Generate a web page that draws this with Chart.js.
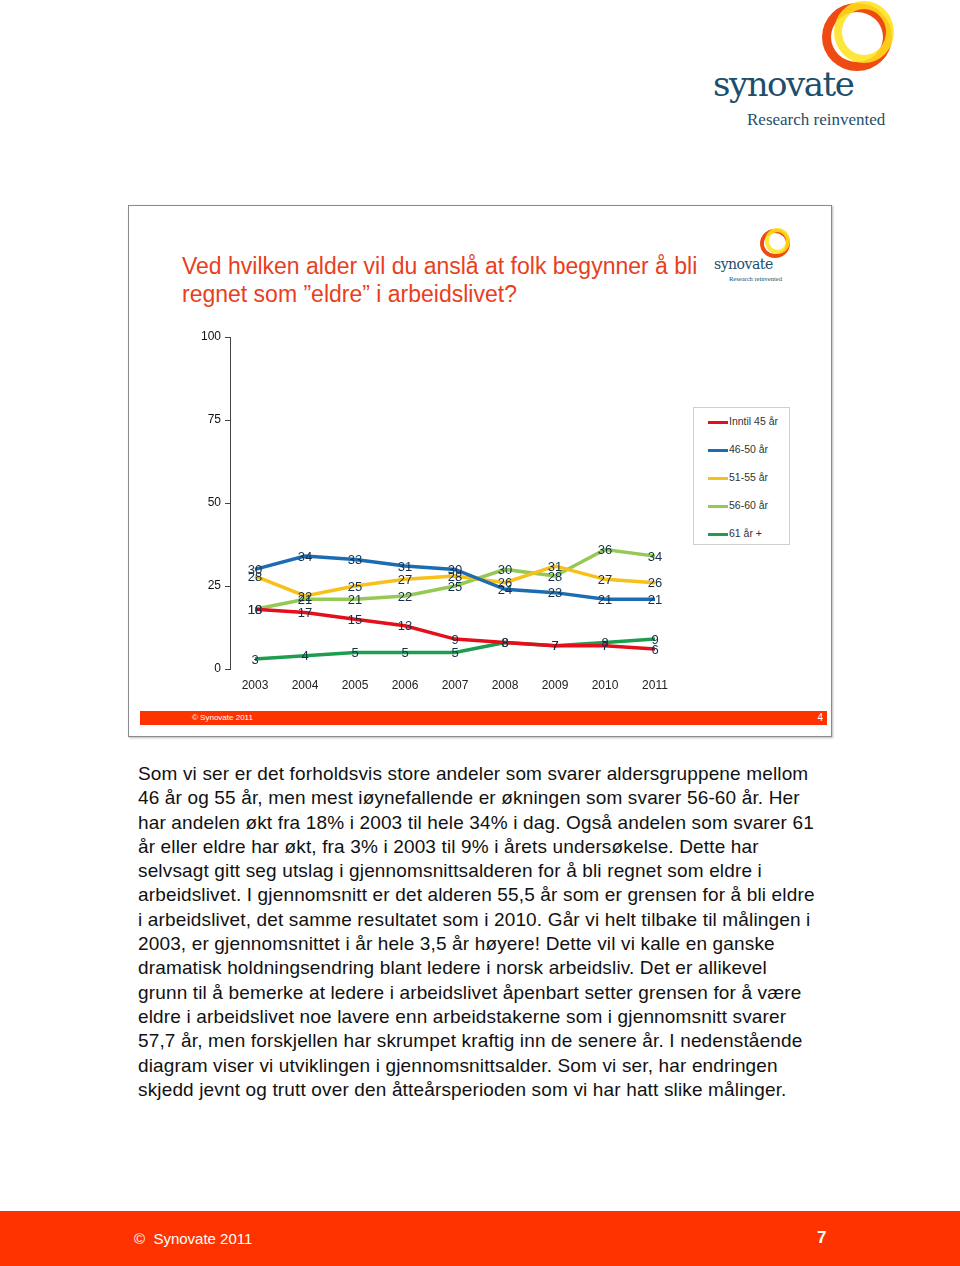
<!DOCTYPE html>
<html>
<head>
<meta charset="utf-8">
<script src="https://cdn.jsdelivr.net/npm/chart.js@4/dist/chart.umd.min.js"></script>
<style>
  body { margin: 0; width: 960px; height: 1266px; position: relative; background: #fff; font-family: "Liberation Sans", Arial, sans-serif; overflow: hidden; }
  .abs { position: absolute; }
  .ring { position: absolute; border-radius: 50%; box-sizing: border-box; }
  #slide { left: 128px; top: 205px; width: 704px; height: 532px; border: 1px solid #8a8a8a; box-sizing: border-box; box-shadow: 1px 1px 2px #bbb; }
  #title { left: 182px; top: 252px; color: #e8401c; font-size: 23px; line-height: 28px; }
  #chartWrap { left: 170px; top: 325px; width: 520px; height: 375px; }
  #legend { left: 693px; top: 407px; width: 97px; height: 138px; border: 1px solid #cfcfcf; box-sizing: border-box; }
  .li { position: absolute; left: 14px; font-size: 10.5px; color: #333; height: 14px; line-height: 14px; }
  .li span { display: inline-block; width: 20px; height: 3px; vertical-align: middle; margin-right: 1px; }
  #bar { left: 140px; top: 711px; width: 687px; height: 14px; background: #ff3300; color: #fff; font-size: 8px; line-height: 14px; }
  #text { left: 138px; top: 762px; font-size: 19px; letter-spacing: 0.15px; line-height: 24.3px; color: #111; white-space: pre; }
  #foot { left: 0; top: 1211px; width: 960px; height: 55px; background: #ff3300; color: #fff; }
</style>
</head>
<body>
<!-- logo oppe til høyre -->
<div class="ring" style="left:822px;top:3px;width:70px;height:68px;border:9px solid #ee4a12;"></div>
<div class="ring" style="left:834px;top:1px;width:60px;height:62px;border:8px solid #ffe21a;opacity:0.85;"></div>
<div class="abs" style="left:713px;top:64px;font-family:'DejaVu Serif',serif;font-size:34px;color:#1d4e6b;letter-spacing:-1.5px;">synovate</div>
<div class="abs" style="left:747px;top:110px;font-family:'Liberation Serif',serif;font-size:17px;color:#1d4e6b;">Research reinvented</div>

<div id="slide" class="abs"></div>
<div id="title" class="abs">Ved hvilken alder vil du anslå at folk begynner å bli<br>regnet som ”eldre” i arbeidslivet?</div>

<!-- lite logo i lysbildet -->
<div class="ring" style="left:760px;top:229px;width:30px;height:29px;border:4px solid #ee4a12;"></div>
<div class="ring" style="left:765px;top:228px;width:25px;height:26px;border:4px solid #ffe21a;opacity:0.85;"></div>
<div class="abs" style="left:714px;top:256px;font-family:'DejaVu Serif',serif;font-size:14px;color:#1d4e6b;letter-spacing:-0.5px;">synovate</div>
<div class="abs" style="left:729px;top:275px;font-family:'Liberation Serif',serif;font-size:6.5px;color:#1d4e6b;">Research reinvented</div>

<div id="chartWrap" class="abs"><canvas id="lineChart" width="520" height="375"></canvas></div>
<div id="legend" class="abs"></div>

<div id="bar" class="abs"><span style="position:absolute;left:52px;">© Synovate 2011</span><span style="position:absolute;right:4px;font-size:10px;">4</span></div>

<div id="text" class="abs">Som vi ser er det forholdsvis store andeler som svarer aldersgruppene mellom
46 år og 55 år, men mest iøynefallende er økningen som svarer 56-60 år. Her
har andelen økt fra 18% i 2003 til hele 34% i dag. Også andelen som svarer 61
år eller eldre har økt, fra 3% i 2003 til 9% i årets undersøkelse. Dette har
selvsagt gitt seg utslag i gjennomsnittsalderen for å bli regnet som eldre i
arbeidslivet. I gjennomsnitt er det alderen 55,5 år som er grensen for å bli eldre
i arbeidslivet, det samme resultatet som i 2010. Går vi helt tilbake til målingen i
2003, er gjennomsnittet i år hele 3,5 år høyere! Dette vil vi kalle en ganske
dramatisk holdningsendring blant ledere i norsk arbeidsliv. Det er allikevel
grunn til å bemerke at ledere i arbeidslivet åpenbart setter grensen for å være
eldre i arbeidslivet noe lavere enn arbeidstakerne som i gjennomsnitt svarer
57,7 år, men forskjellen har skrumpet kraftig inn de senere år. I nedenstående
diagram viser vi utviklingen i gjennomsnittsalder. Som vi ser, har endringen
skjedd jevnt og trutt over den åtteårsperioden som vi har hatt slike målinger.</div>

<div id="foot" class="abs">
  <span style="position:absolute;left:134px;top:19px;font-size:15px;">©&nbsp; Synovate 2011</span>
  <span style="position:absolute;left:817px;top:17px;font-size:17px;font-weight:bold;">7</span>
</div>

<script>
// data lest av bildet
var years = ['2003', '2004', '2005', '2006', '2007', '2008', '2009', '2010', '2011'];
var seriesNames = ['Inntil 45 år', '46-50 år', '51-55 år', '56-60 år', '61 år +'];
var inntil45 = [18, 17, 15, 13, 9, 8, 7, 7, 6];
var aar46_50 = [30, 34, 33, 31, 30, 24, 23, 21, 21];
var aar51_55 = [28, 22, 25, 27, 28, 26, 31, 27, 26];
var aar56_60 = [18, 21, 21, 22, 25, 30, 28, 36, 34];
var aar61pluss = [3, 4, 5, 5, 5, 8, 7, 8, 9];
var yTicks = [0, 25, 50, 75, 100];

var colors = ['#e3101b', '#1c6cb4', '#f7c11a', '#93c954', '#1d9e4e'];
var values = [inntil45, aar46_50, aar51_55, aar56_60, aar61pluss];

var datasets = seriesNames.map(function(name, i) {
    return {
        label: name,
        data: values[i],
        borderColor: colors[i],
        backgroundColor: colors[i],
        borderWidth: 3.5,
        pointRadius: 0,
        tension: 0,
        fill: false
    };
});

// tallene på punktene
var valueLabels = {
    id: 'valueLabels',
    afterDatasetsDraw: function(chart) {
        var ctx = chart.ctx;
        ctx.save();
        ctx.font = '13px "Liberation Sans", Arial, sans-serif';
        ctx.fillStyle = '#14304a';
        ctx.textAlign = 'center';
        ctx.textBaseline = 'middle';
        chart.data.datasets.forEach(function(ds, i) {
            chart.getDatasetMeta(i).data.forEach(function(pt, j) {
                ctx.fillText(ds.data[j], pt.x, pt.y + 1);
            });
        });
        ctx.restore();
    }
};

var ctx = document.getElementById('lineChart').getContext('2d');
var lineChart = new Chart(ctx, {
    type: 'line',
    data: { labels: years, datasets: datasets },
    options: {
        responsive: false,
        animation: false,
        layout: { padding: { top: 12, right: 10, bottom: 0, left: 0 } },
        plugins: {
            legend: { display: false },
            tooltip: { enabled: false }
        },
        scales: {
            x: {
                offset: true,
                grid: { display: false, drawTicks: false },
                border: { display: false },
                ticks: { color: '#222', padding: 9, font: { size: 12, family: '"Liberation Sans", Arial' } },
                afterFit: function(s) { s.height = 31; }
            },
            y: {
                min: 0,
                max: 100,
                afterBuildTicks: function(s) { s.ticks = yTicks.map(function(v) { return { value: v }; }); },
                grid: { drawOnChartArea: false, drawTicks: true, tickLength: 5, color: '#444' },
                border: { display: true, color: '#444', width: 1 },
                ticks: { color: '#111', padding: 4, font: { size: 12, family: '"Liberation Sans", Arial' } },
                afterFit: function(s) { s.width = 60; }
            }
        }
    },
    plugins: [valueLabels]
});

// legende
var legend = document.getElementById('legend');
seriesNames.forEach(function(name, i) {
    var d = document.createElement('div');
    d.className = 'li';
    d.style.top = (6 + i * 28) + 'px';
    d.innerHTML = '<span style="background:' + colors[i] + '"></span>' + name;
    legend.appendChild(d);
});
</script>
</body>
</html>
